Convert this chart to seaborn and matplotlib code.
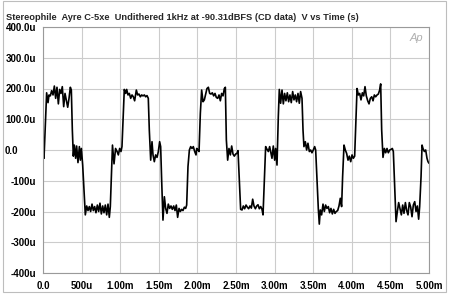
import numpy as np
import pandas as pd
import matplotlib
matplotlib.use("Agg")
import matplotlib.pyplot as plt
import matplotlib.transforms as mtransforms
from matplotlib.patches import Rectangle
import seaborn as sns

# ---- data (time in ms, voltage in microvolts) ----
time_ms = [
    0.000, 0.013, 0.047, 0.065, 0.078, 0.095, 0.112, 0.130, 0.147, 0.164, 0.181, 0.199,
    0.216, 0.233, 0.250, 0.268, 0.285, 0.302, 0.320, 0.337, 0.354, 0.367, 0.380, 0.393,
    0.406, 0.423, 0.436, 0.453, 0.471, 0.484, 0.497, 0.514, 0.531, 0.548, 0.566, 0.583,
    0.600, 0.617, 0.635, 0.652, 0.669, 0.686, 0.704, 0.721, 0.738, 0.756, 0.773, 0.790,
    0.807, 0.825, 0.842, 0.859, 0.872, 0.885, 0.900, 0.920, 0.940, 0.960, 0.976, 0.993,
    1.010, 1.023, 1.041, 1.053, 1.071, 1.084, 1.101, 1.118, 1.136, 1.153, 1.170, 1.187,
    1.209, 1.226, 1.243, 1.261, 1.278, 1.295, 1.313, 1.330, 1.347, 1.364, 1.377, 1.395,
    1.412, 1.425, 1.442, 1.459, 1.477, 1.494, 1.511, 1.524, 1.537, 1.554, 1.572, 1.589,
    1.606, 1.623, 1.641, 1.658, 1.675, 1.693, 1.710, 1.727, 1.744, 1.762, 1.779, 1.796,
    1.813, 1.831, 1.848, 1.861, 1.878, 1.896, 1.913, 1.930, 1.947, 1.965, 1.982, 1.991,
    2.008, 2.021, 2.038, 2.055, 2.073, 2.090, 2.107, 2.124, 2.142, 2.159, 2.176, 2.193,
    2.211, 2.228, 2.245, 2.263, 2.280, 2.297, 2.314, 2.332, 2.349, 2.362, 2.375, 2.392,
    2.409, 2.427, 2.444, 2.461, 2.478, 2.496, 2.513, 2.526, 2.543, 2.560, 2.578, 2.595,
    2.612, 2.630, 2.647, 2.664, 2.681, 2.699, 2.716, 2.733, 2.751, 2.768, 2.785, 2.802,
    2.820, 2.837, 2.850, 2.867, 2.884, 2.902, 2.919, 2.936, 2.966, 2.983, 3.001, 3.013,
    3.031, 3.048, 3.061, 3.078, 3.096, 3.113, 3.130, 3.147, 3.165, 3.182, 3.199, 3.216,
    3.234, 3.251, 3.268, 3.285, 3.303, 3.320, 3.337, 3.355, 3.368, 3.380, 3.398, 3.415,
    3.432, 3.450, 3.467, 3.484, 3.501, 3.519, 3.532, 3.549, 3.566, 3.579, 3.592, 3.609,
    3.627, 3.644, 3.661, 3.678, 3.696, 3.713, 3.730, 3.748, 3.765, 3.782, 3.799, 3.817,
    3.834, 3.851, 3.868, 3.881, 3.899, 3.916, 3.933, 3.951, 3.968, 3.986, 4.003, 4.020,
    4.037, 4.055, 4.068, 4.085, 4.102, 4.119, 4.137, 4.154, 4.171, 4.188, 4.206, 4.223,
    4.240, 4.258, 4.275, 4.292, 4.309, 4.327, 4.344, 4.361, 4.374, 4.387, 4.404, 4.422,
    4.439, 4.456, 4.473, 4.491, 4.508, 4.525, 4.538, 4.555, 4.573, 4.590, 4.607, 4.624,
    4.642, 4.659, 4.676, 4.694, 4.711, 4.728, 4.745, 4.763, 4.780, 4.797, 4.815, 4.832,
    4.849, 4.866, 4.879, 4.897, 4.910, 4.922, 4.940, 4.957, 4.974, 4.987, 5.000,
]
volts_uv = [
    16, -27, 186, 154, 179, 176, 193, 179, 208, 168, 204, 150,
    197, 184, 206, 141, 184, 163, 139, 168, 204, 195, 65, -20,
    16, -27, 13, -41, 11, -33, 5, -49, -130, -211, -182, -197,
    -184, -200, -176, -197, -184, -204, -179, -200, -173, -208, -182, -204,
    -179, -211, -176, -219, -184, -90, 16, -45, 5, -5, -16, 5,
    -5, 11, 119, 197, 184, 197, 179, 184, 168, 179, 173, 160,
    195, 179, 182, 173, 179, 176, 179, 173, 177, 168, 65, -33,
    27, -16, -38, -16, -24, -5, 27, 11, -98, -228, -152, -190,
    -206, -176, -190, -182, -193, -182, -197, -179, -219, -190, -200, -193,
    -197, -186, -190, -179, -54, 0, 11, 5, 11, -5, -16, 5,
    0, -5, 119, 195, 157, 163, 182, 200, 204, 184, 182, 186,
    176, 184, 171, 168, 179, 160, 184, 176, 200, 204, 33, -33,
    5, -16, 13, -13, -20, -13, -11, -2, -98, -193, -195, -182,
    -191, -179, -186, -191, -182, -189, -160, -182, -191, -182, -178, -191,
    -184, -193, -211, -98, 11, 2, -5, 11, -27, 13, -33, 5,
    -49, 108, 197, 152, 195, 150, 184, 160, 186, 157, 179, 154,
    190, 163, 179, 157, 184, 152, 190, 168, 65, 11, 27, 0,
    22, -5, 0, -9, 0, 11, 0, -98, -190, -241, -195, -211,
    -176, -200, -179, -190, -184, -204, -190, -208, -193, -206, -200, -197,
    -182, -157, -184, -87, 16, 0, -11, -33, -20, -38, -16, -27,
    -20, 108, 200, 179, 184, 163, 186, 176, 206, 176, 160, 150,
    168, 173, 160, 179, 173, 179, 182, 195, 215, 65, -24, 5,
    -9, 5, -9, 0, 2, 5, -5, -119, -233, -200, -171, -190,
    -211, -179, -206, -171, -197, -211, -171, -186, -217, -179, -168, -200,
    -182, -225, -184, -87, 16, 5, -5, 0, -27, -38, -43,
]

x_tick_ms = [0.0, 0.5, 1.0, 1.5, 2.0, 2.5, 3.0, 3.5, 4.0, 4.5, 5.0]
x_tick_labels = ["0.0", "500u", "1.00m", "1.50m", "2.00m", "2.50m", "3.00m",
                 "3.50m", "4.00m", "4.50m", "5.00m"]
y_tick_uv = [-400, -300, -200, -100, 0, 100, 200, 300, 400]
y_tick_labels = ["-400u", "-300u", "-200u", "-100u", "0.0", "100.0u", "200.0u",
                 "300.0u", "400.0u"]
title = "Stereophile  Ayre C-5xe  Undithered 1kHz at -90.31dBFS (CD data)  V vs Time (s)"

df = pd.DataFrame({"t": np.array(time_ms) * 1e-3, "v": np.array(volts_uv) * 1e-6})

sns.set_theme(style="white")
plt.rcParams["font.family"] = ["Liberation Sans", "DejaVu Sans"]

W, H = 450, 297
fig = plt.figure(figsize=(W / 100, H / 100), dpi=100)
fig.patch.set_facecolor("white")
L, R, T, B = 43, 429, 27, 273
ax = fig.add_axes([L / W, 1 - B / H, (R - L) / W, (B - T) / H])
ax.set_facecolor("white")

sns.lineplot(data=df, x="t", y="v", ax=ax, color="black", linewidth=1.2,
             sort=False, estimator=None)

ax.set_xlim(0, 5e-3)
ax.set_ylim(-400e-6, 400e-6)
ax.set_xticks([v * 1e-3 for v in x_tick_ms])
ax.set_xticklabels(x_tick_labels)
ax.set_yticks([v * 1e-6 for v in y_tick_uv])
ax.set_yticklabels(y_tick_labels)
ax.set_xlabel("")
ax.set_ylabel("")
ax.grid(True, color="#cccccc", linewidth=0.8)
ax.set_axisbelow(True)
for s in ax.spines.values():
    s.set_color("#9a9a9a")
    s.set_linewidth(0.8)
ax.tick_params(axis="both", length=0, labelsize=7, colors="black")
ax.tick_params(axis="y", pad=5)
ax.tick_params(axis="x", pad=6)
for lab in ax.get_xticklabels() + ax.get_yticklabels():
    lab.set_fontweight("bold")
for lab in ax.get_yticklabels():
    if lab.get_text() == "0.0":
        lab.set_transform(lab.get_transform() +
                          mtransforms.ScaledTranslation(-18 / 100, 0, fig.dpi_scale_trans))

fig.text(6 / W, 1 - 19.5 / H, title, fontsize=6.7, fontweight="bold",
         ha="left", va="baseline")
ax.text(0.985, 0.975, "Ap", transform=ax.transAxes, ha="right", va="top",
        fontsize=8, style="italic", color="#b0b0b0")

fig.add_artist(Rectangle((2.5 / W, 1 - 291.5 / H), 443 / W, 290.5 / H,
                         transform=fig.transFigure, fill=False,
                         edgecolor="#bdbdbd", linewidth=0.8))

fig.savefig("out.png", dpi=100)
